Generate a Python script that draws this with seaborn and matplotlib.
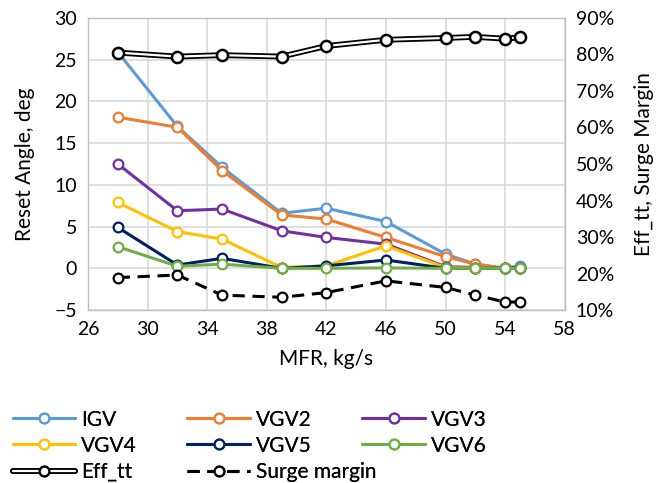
import matplotlib
matplotlib.use("Agg")
import matplotlib.pyplot as plt
from matplotlib.lines import Line2D
from matplotlib.legend_handler import HandlerTuple
import matplotlib.ticker as mticker
import seaborn as sns
import pandas as pd

# Mass flow rate operating points (kg/s)
mfr = [28, 32, 35, 39, 42, 46, 50, 52, 54, 55]

# Reset angles of the variable vanes (deg)
igv  = [25.9, 17.0, 12.1, 6.6, 7.2, 5.6, 1.7, 0.5, 0.0, 0.3]
vgv2 = [18.1, 16.9, 11.7, 6.4, 5.9, 3.7, 1.4, 0.5, 0.0, 0.1]
vgv3 = [12.5, 6.9, 7.1, 4.5, 3.7, 2.9, 0.2, 0.1, 0.0, 0.0]
vgv4 = [7.9, 4.4, 3.5, 0.1, 0.3, 2.7, 0.1, 0.05, 0.0, 0.0]
vgv5 = [4.9, 0.4, 1.2, 0.0, 0.3, 1.0, 0.0, 0.0, 0.0, 0.1]
vgv6 = [2.6, 0.25, 0.5, 0.0, 0.0, 0.05, 0.0, 0.0, 0.0, 0.0]

# Total-to-total efficiency and surge margin (%)
eff_tt = [80.5, 79.4, 79.8, 79.4, 82.3, 84.0, 84.5, 84.8, 84.3, 84.7]
surge = [18.9, 19.6, 14.1, 13.5, 14.8, 18.0, 16.2, 14.1, 12.2, 12.2]

vane_names = ["IGV", "VGV2", "VGV3", "VGV4", "VGV5", "VGV6"]
vane_values = [igv, vgv2, vgv3, vgv4, vgv5, vgv6]
vane_colors = ["#5B9BD5", "#ED7D31", "#7030A0", "#FFC000", "#002060", "#70AD47"]

x_ticks = list(range(26, 59, 4))

sns.set_theme(style="white")
plt.rcParams["font.family"] = ["Lato", "DejaVu Sans"]
plt.rcParams["text.color"] = "black"
plt.rcParams["axes.labelcolor"] = "black"
FS = 14

fig = plt.figure(figsize=(6.59, 4.83), dpi=100)
ax = fig.add_axes([0.1335, 0.358, 0.7235, 0.605])

lw = 2.2
ms = 7
handles = {}
for name, vals, col in zip(vane_names, vane_values, vane_colors):
    df = pd.DataFrame({"MFR": mfr, "val": vals})
    sns.lineplot(data=df, x="MFR", y="val", ax=ax, color=col, lw=lw,
                 marker="o", markersize=ms, markerfacecolor="white",
                 markeredgecolor=col, markeredgewidth=1.6, legend=False)
    handles[name] = Line2D([], [], color=col, lw=lw, marker="o", markersize=ms,
                           markerfacecolor="white", markeredgecolor=col,
                           markeredgewidth=1.6)

ax.set_xlim(26, 58)
ax.set_ylim(-5, 30)
ax.xaxis.set_major_locator(mticker.FixedLocator(x_ticks))
ax.yaxis.set_major_locator(mticker.MultipleLocator(5))
ax.grid(True, color="#d9d9d9", lw=1.2)
ax.set_axisbelow(True)
for sp in ax.spines.values():
    sp.set_color("#bfbfbf")
    sp.set_linewidth(1.0)
ax.tick_params(axis="both", length=0, labelsize=FS, colors="black", pad=8)
ax.set_xlabel("MFR, kg/s", fontsize=FS + 1, labelpad=8)
ax.set_ylabel("Reset Angle, deg", fontsize=FS + 1, labelpad=14)

# Secondary axis: efficiency (double line) and surge margin (dashed)
ax2 = ax.twinx()
df_e = pd.DataFrame({"MFR": mfr, "val": eff_tt})
sns.lineplot(data=df_e, x="MFR", y="val", ax=ax2, color="black", lw=4.2,
             legend=False)
sns.lineplot(data=df_e, x="MFR", y="val", ax=ax2, color="white", lw=1.6,
             marker="o", markersize=ms + 1, markerfacecolor="white",
             markeredgecolor="black", markeredgewidth=1.8, legend=False)
df_s = pd.DataFrame({"MFR": mfr, "val": surge})
sns.lineplot(data=df_s, x="MFR", y="val", ax=ax2, color="black", lw=lw,
             marker="o", markersize=ms, markerfacecolor="white",
             markeredgecolor="black", markeredgewidth=1.6, legend=False)
ax2.get_lines()[-1].set_dashes([4, 2.5])

ax2.set_ylim(10, 90)
ax2.yaxis.set_major_locator(mticker.MultipleLocator(10))
ax2.yaxis.set_major_formatter(mticker.FuncFormatter(lambda v, p: f"{v:.0f}%"))
ax2.tick_params(axis="y", length=0, labelsize=FS, colors="black", pad=8)
ax2.set_ylabel("Eff_tt, Surge Margin", fontsize=FS + 1, labelpad=14)
ax2.grid(False)
for sp in ax2.spines.values():
    sp.set_visible(False)

h_eff = (Line2D([], [], color="black", lw=4.2),
         Line2D([], [], color="white", lw=1.6, marker="o", markersize=ms,
                markerfacecolor="white", markeredgecolor="black",
                markeredgewidth=1.6))
h_surge = Line2D([], [], color="black", lw=lw, dashes=[4, 2.5], marker="o",
                 markersize=ms, markerfacecolor="white",
                 markeredgecolor="black", markeredgewidth=1.6)

# three single-column legends placed at fixed horizontal offsets
columns = [
    ([handles["IGV"], handles["VGV4"], h_eff], ["IGV", "VGV4", "Eff_tt"]),
    ([handles["VGV2"], handles["VGV5"], h_surge], ["VGV2", "VGV5", "Surge margin"]),
    ([handles["VGV3"], handles["VGV6"]], ["VGV3", "VGV6"]),
]
x_starts = [0.0, 0.2655, 0.531]
for (hs, ls), x0 in zip(columns, x_starts):
    leg = fig.legend(hs, ls, ncol=1, loc="upper left",
                     bbox_to_anchor=(x0, 0.178), frameon=False,
                     fontsize=FS + 1, handlelength=3.0, handletextpad=0.3,
                     labelspacing=0.3, borderaxespad=0.2,
                     handler_map={tuple: HandlerTuple(ndivide=1, pad=0)})
    fig.add_artist(leg)

fig.savefig("out.png", dpi=100)
